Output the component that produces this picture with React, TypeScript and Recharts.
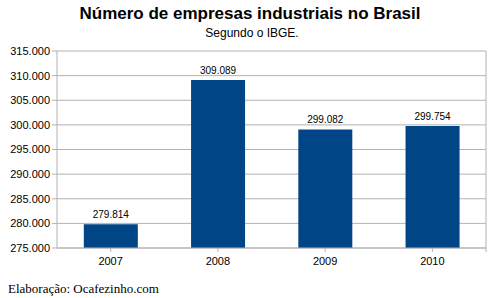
import { BarChart, Bar, XAxis, YAxis, CartesianGrid, LabelList } from 'recharts';

const years = ['2007', '2008', '2009', '2010'];
const empresas = [279814, 309089, 299082, 299754];
const yTicks = [275000, 280000, 285000, 290000, 295000, 300000, 305000, 310000, 315000];

const data = years.map((y, i) => ({ ano: y, empresas: empresas[i] }));

const fmt = (v: number) => v.toLocaleString('pt-BR');

export default function App() {
  return (
    <div style={{ position: 'absolute', left: 0, top: 0, width: 497, height: 298, background: '#fff', fontFamily: 'Liberation Sans, Arial, sans-serif' }}>
      <div style={{ position: 'absolute', top: 4, left: 0, width: 500, textAlign: 'center', fontSize: 17, fontWeight: 'bold', color: '#000' }}>
        Número de empresas industriais no Brasil
      </div>
      <div style={{ position: 'absolute', top: 26, left: 0, width: 504, textAlign: 'center', fontSize: 12, color: '#000' }}>
        Segundo o IBGE.
      </div>
      <div style={{ position: 'absolute', top: 0, left: 0 }}>
        <BarChart width={497} height={298} data={data} margin={{ top: 51, right: 11, bottom: 26, left: 0 }} barCategoryGap="25%">
          <CartesianGrid stroke="#b3b3b3" vertical={false} />
          <XAxis
            dataKey="ano"
            height={24}
            stroke="#b3b3b3"
            tickLine={{ stroke: '#b3b3b3' }}
            tick={{ fill: '#000', fontSize: 11 }}
            tickSize={4}
            tickMargin={5}
            interval={0}
          />
          <YAxis
            domain={[275000, 315000]}
            ticks={yTicks}
            tickFormatter={fmt}
            width={57}
            stroke="#b3b3b3"
            tick={{ fill: '#000', fontSize: 11 }}
            tickSize={5}
            tickMargin={2}
            allowDataOverflow
          />
          <Bar dataKey="empresas" fill="#004586" isAnimationActive={false}>
            <LabelList dataKey="empresas" position="top" formatter={(v: any) => fmt(Number(v))} fill="#000" fontSize={10} offset={6} />
          </Bar>
        </BarChart>
        <svg style={{ position: 'absolute', left: 0, top: 0 }} width={497} height={298} pointerEvents="none">
          <line x1={486} y1={51} x2={486} y2={252} stroke="#b3b3b3" />
        </svg>
      </div>
      <div style={{ position: 'absolute', top: 281, left: 8, fontFamily: 'Liberation Serif, Times New Roman, serif', fontSize: 13, color: '#000' }}>
        Elaboração: Ocafezinho.com
      </div>
    </div>
  );
}
